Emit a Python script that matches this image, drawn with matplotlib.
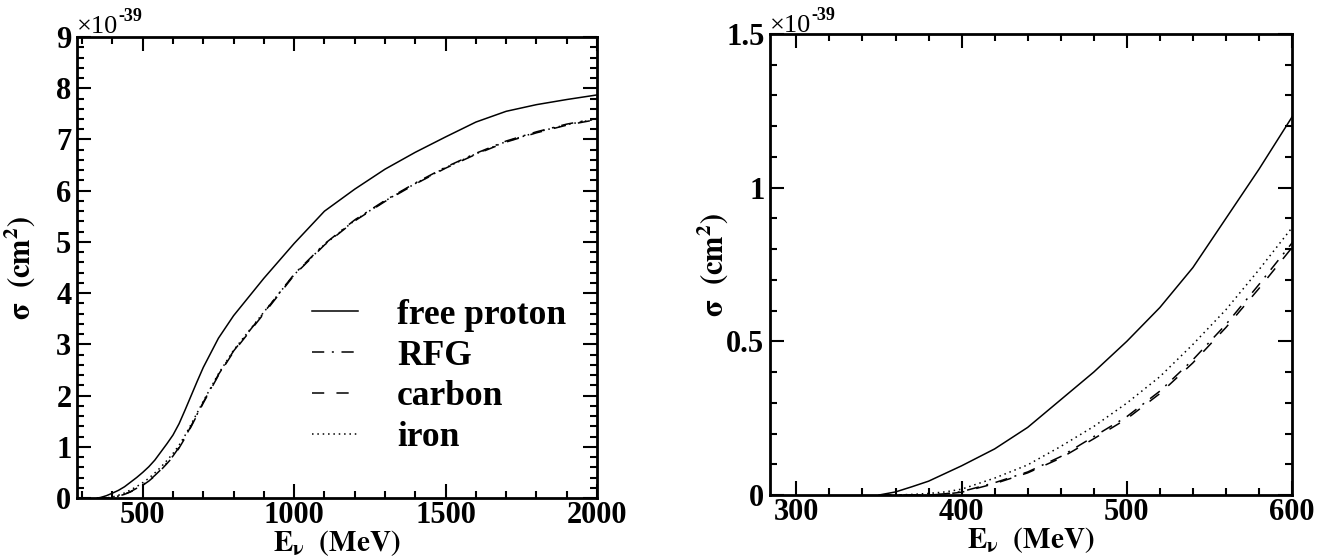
import numpy as np
import matplotlib.pyplot as plt
from matplotlib.ticker import MultipleLocator, FixedLocator
from matplotlib.transforms import offset_copy

plt.rcParams['mathtext.fontset'] = 'stix'
plt.rcParams['font.family'] = ['Liberation Serif', 'DejaVu Serif']

# neutrino energy (MeV) and cross sections (units of 1e-39 cm^2)
energy = [350, 360, 370, 380, 390, 400, 420, 440, 460, 480, 500, 520, 540, 560,
          580, 600, 620, 640, 660, 680, 700, 750, 800, 900, 1000, 1100, 1200,
          1300, 1400, 1500, 1600, 1700, 1800, 1900, 2000]
free_proton = [0.0, 0.010, 0.027, 0.045, 0.070, 0.095, 0.150, 0.220, 0.310, 0.400,
               0.500, 0.610, 0.740, 0.900, 1.060, 1.230, 1.450, 1.720, 2.000, 2.280,
               2.550, 3.120, 3.560, 4.290, 4.970, 5.600, 6.030, 6.420, 6.750, 7.050,
               7.340, 7.550, 7.680, 7.780, 7.870]
rfg = [0.0, 0.0, 0.0, 0.0, 0.004, 0.011, 0.040, 0.075, 0.125, 0.190,
       0.255, 0.338, 0.440, 0.555, 0.685, 0.820, 0.990, 1.190, 1.410, 1.640,
       1.870, 2.410, 2.870, 3.620, 4.370, 4.960, 5.430, 5.810, 6.150, 6.460,
       6.730, 6.970, 7.150, 7.300, 7.410]
carbon = [0.0, 0.0, 0.0, 0.0, 0.003, 0.009, 0.037, 0.072, 0.120, 0.183,
          0.248, 0.330, 0.430, 0.545, 0.672, 0.805, 0.975, 1.175, 1.395, 1.625,
          1.855, 2.395, 2.855, 3.600, 4.350, 4.940, 5.410, 5.790, 6.130, 6.440,
          6.710, 6.950, 7.130, 7.280, 7.390]
iron = [0.0, 0.0, 0.002, 0.005, 0.010, 0.019, 0.055, 0.098, 0.158, 0.223,
        0.299, 0.385, 0.490, 0.603, 0.733, 0.870, 1.030, 1.225, 1.440, 1.665,
        1.890, 2.425, 2.885, 3.630, 4.360, 4.950, 5.420, 5.800, 6.140, 6.450,
        6.720, 6.960, 7.140, 7.290, 7.400]

series = [
    ('free proton', free_proton, '-'),
    ('RFG', rfg, (0, (8, 5, 1.3, 5))),
    ('carbon', carbon, (0, (8, 8))),
    ('iron', iron, (0, (1, 2.5))),
]

fig = plt.figure(figsize=(13.25, 5.57), dpi=100)
ax1 = fig.add_axes([0.0581, 0.1059, 0.3925, 0.8276])
ax2 = fig.add_axes([0.5811, 0.1113, 0.3940, 0.8276])

tick_font = dict(family='Liberation Serif', weight='bold', size=22)

for ax in (ax1, ax2):
    for name, vals, ls in series:
        ax.plot(energy, vals, color='black', linestyle=ls, linewidth=1.1, label=name)
    for sp in ax.spines.values():
        sp.set_linewidth(2.0)
    ax.tick_params(which='both', direction='in', top=True, right=True, width=1.5, pad=4)
    ax.tick_params(axis='x', which='both', pad=2)
    ax.tick_params(which='major', length=10)
    ax.tick_params(which='minor', length=5)
    ax.set_xlabel(r'$\mathbf{E_{\nu}\ \ (MeV)}$', fontsize=21)
    ax.set_ylabel(r'$\mathbf{\sigma\ \ (cm^{2})}$', fontsize=22)
    ax.xaxis.set_label_coords(0.5, -0.066)
    ax.yaxis.set_label_coords(-0.075, 0.5)

# left panel
ax1.set_xlim(283, 2000)
ax1.set_ylim(0, 9)
ax1.xaxis.set_major_locator(FixedLocator([500, 1000, 1500, 2000]))
ax1.xaxis.set_minor_locator(MultipleLocator(100))
ax1.yaxis.set_minor_locator(MultipleLocator(0.2))
ax1.set_xticklabels(['500', '1000', '1500', '2000'], **tick_font)
ax1.set_yticks(range(10))
ax1.set_yticklabels([str(v) for v in range(10)], **tick_font)

leg = ax1.legend(loc='upper left', bbox_to_anchor=(0.452, 0.432), frameon=False,
                 prop=dict(family='Liberation Serif', weight='bold', size=25.5),
                 handlelength=1.3, handletextpad=1.1, labelspacing=0.22,
                 borderpad=0, borderaxespad=0)

# right panel
ax2.set_xlim(284, 600)
ax2.set_ylim(0, 1.5)
ax2.xaxis.set_major_locator(FixedLocator([300, 400, 500, 600]))
ax2.xaxis.set_minor_locator(MultipleLocator(20))
ax2.yaxis.set_major_locator(FixedLocator([0, 0.5, 1, 1.5]))
ax2.yaxis.set_minor_locator(MultipleLocator(0.1))
ax2.set_xticklabels(['300', '400', '500', '600'], **tick_font)
ax2.set_yticklabels(['0', '0.5', '1', '1.5'], **tick_font)

# axis multiplier, drawn ROOT-style above the top-left corner
for ax, dy in ((ax1, 4), (ax2, 2)):
    base = offset_copy(ax.transAxes, fig=fig, x=0, y=dy * 0.72, units='points')
    ax.text(0.0, 1.0, '\u00d710', transform=base, ha='left', va='baseline', fontsize=19)
    expo = offset_copy(ax.transAxes, fig=fig, x=29.5, y=(dy + 12) * 0.72, units='points')
    ax.text(0.0, 1.0, '-39', transform=expo, ha='left', va='baseline',
            fontsize=13, fontweight='bold')

fig.savefig('out.png', dpi=100)
